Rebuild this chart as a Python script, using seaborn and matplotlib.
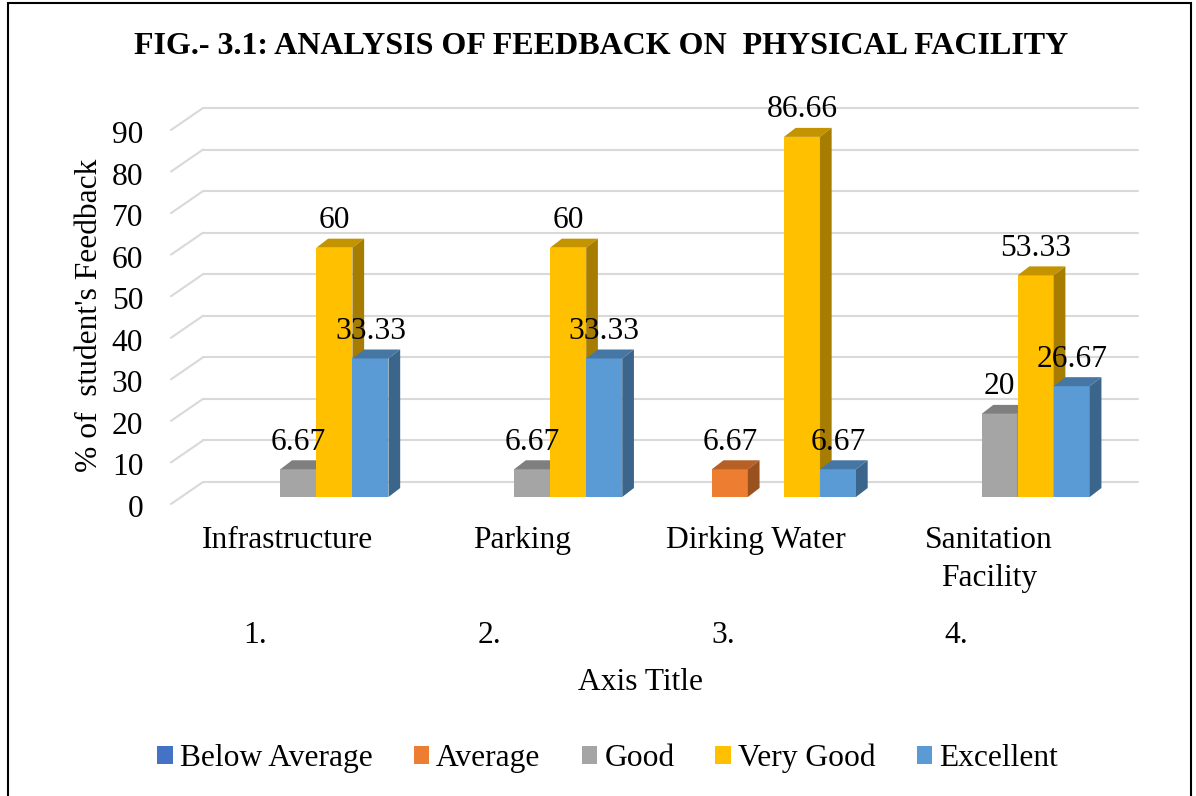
import numpy as np
import pandas as pd
import seaborn as sns
import matplotlib.pyplot as plt
from matplotlib.colors import to_rgb
from matplotlib.patches import Polygon, Rectangle
from matplotlib.transforms import ScaledTranslation

# data
facilities = ["Infrastructure", "Parking", "Dirking Water", "Sanitation\nFacility"]
serial_no = ["1.", "2.", "3.", "4."]
ratings = ["Below Average", "Average", "Good", "Very Good", "Excellent"]
below_average = [0, 0, 0, 0]
average = [0, 0, 6.67, 0]
good = [6.67, 6.67, 0, 20]
very_good = [60, 60, 86.66, 53.33]
excellent = [33.33, 33.33, 6.67, 26.67]
y_ticks = list(range(0, 100, 10))
colors = ["#4472C4", "#ED7D31", "#A5A5A5", "#FFC000", "#5B9BD5"]

df = pd.DataFrame({
    "Facility": facilities * len(ratings),
    "Rating": np.repeat(ratings, len(facilities)),
    "Percent": below_average + average + good + very_good + excellent,
})

sns.set_style("white")
plt.rcParams["font.family"] = ["Liberation Serif", "DejaVu Serif"]
for k in ["text.color", "axes.labelcolor", "xtick.color", "ytick.color"]:
    plt.rcParams[k] = "black"
FS = 22.7

fig = plt.figure(figsize=(11.96, 7.96), dpi=100)
ax = fig.add_axes([181.5 / 1196, 299 / 796, 935 / 1196, 374 / 796])

sns.barplot(data=df, x="Facility", y="Percent", hue="Rating", order=facilities,
            hue_order=ratings, palette=colors, saturation=1, width=0.771,
            linewidth=0, errorbar=None, ax=ax)
ax.set_xlim(-0.5, 3.5)
ax.set_ylim(0, 90)
sns.despine(ax=ax, left=True, bottom=True)
ax.grid(False)

# pixel offsets -> data units (fake 3D depth like the Excel chart)
p0 = ax.transData.transform((0, 0))
p1 = ax.transData.transform((1, 1))
sx, sy = p1 - p0


def shift(dx, dy):
    return dx / sx, dy / sy


back_dx, back_dy = shift(21.5, 15)
front_dx, front_dy = shift(-10.5, -7)
deep_dx, deep_dy = shift(11.7, 9)

x0, x1 = ax.get_xlim()
for t in y_ticks:
    ax.plot([x0 + back_dx, x1 + back_dx], [t + back_dy] * 2, color="#D9D9D9",
            lw=1.5, zorder=0, clip_on=False)
    ax.plot([x0 + front_dx, x0 + back_dx], [t + front_dy, t + back_dy],
            color="#D9D9D9", lw=1.5, zorder=0, clip_on=False)

bars = [p for p in ax.patches if p.get_height() > 0]
bars.sort(key=lambda p: p.get_x())
for i, p in enumerate(bars):
    x, w, h = p.get_x(), p.get_width(), p.get_height()
    c = np.array(to_rgb(p.get_facecolor()))
    z = 3 + i * 0.1
    p.set_zorder(z)
    top = Polygon([(x, h), (x + w, h), (x + w + deep_dx, h + deep_dy), (x + deep_dx, h + deep_dy)],
                  closed=True, fc=c * 0.77, ec="none", zorder=z, clip_on=False)
    side = Polygon([(x + w, 0), (x + w + deep_dx, deep_dy), (x + w + deep_dx, h + deep_dy), (x + w, h)],
                   closed=True, fc=c * 0.65, ec="none", zorder=z, clip_on=False)
    ax.add_patch(top)
    ax.add_patch(side)
    ax.annotate(f"{h:g}", xy=(x + w / 2, h), xytext=(0, 14), textcoords="offset points",
                ha="center", va="baseline", fontsize=FS, zorder=10, annotation_clip=False)

ax.set_yticks(y_ticks)
ax.tick_params(axis="y", length=0, pad=27.5, labelsize=FS)
ax.tick_params(axis="x", length=0, pad=21, labelsize=FS)

dpi_t = fig.dpi_scale_trans
for lab in ax.get_yticklabels():
    lab.set_transform(lab.get_transform() + ScaledTranslation(0, -0.09, dpi_t))
for lab in ax.get_xticklabels():
    lab.set_linespacing(1.4)
    lab.set_transform(lab.get_transform() + ScaledTranslation(-0.105, 0, dpi_t))

for i, s in enumerate(serial_no):
    ax.text(i, 0, s, transform=ax.transData + ScaledTranslation(-0.43, -1.46, dpi_t),
            ha="center", va="baseline", fontsize=FS)

ax.set_xlabel("Axis Title", fontsize=FS)
ax.xaxis.set_label_coords(0.4904, -0.457)
ax.set_ylabel("% of  student's Feedback", fontsize=FS)
ax.yaxis.set_label_coords(-0.083, 0.487)

fig.text(0.503, 0.941, "FIG.- 3.1: ANALYSIS OF FEEDBACK ON  PHYSICAL FACILITY",
         ha="center", va="center", fontsize=FS + 0.3, fontweight="bold")

sns.move_legend(ax, "center", bbox_to_anchor=(0.508, 0.0477), bbox_transform=fig.transFigure,
                ncol=5, frameon=False, title=None, fontsize=FS, handlelength=0.5,
                handleheight=0.5, handletextpad=0.22, columnspacing=1.3)

fig.add_artist(Rectangle((8 / 1196, -0.02), (1191 - 8) / 1196, 1.02 - 3 / 796,
                         transform=fig.transFigure, fill=False, ec="black", lw=1.5))

fig.savefig("out.png", dpi=100)
